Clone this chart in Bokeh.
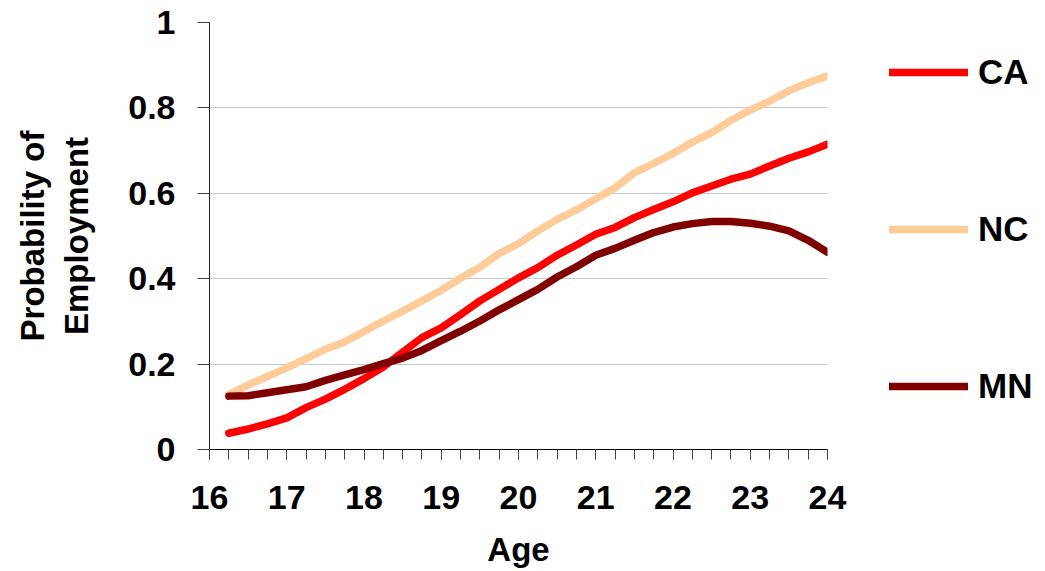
from bokeh.plotting import figure
from bokeh.models import (Range1d, SingleIntervalTicker, FixedTicker, Legend, LegendItem,
                          ColumnDataSource)
from bokeh.embed import file_html
from bokeh.resources import INLINE

# ---- data ----
ages = [16.25, 16.5, 16.75, 17.0, 17.25, 17.5, 17.75, 18.0, 18.25, 18.5,
        18.75, 19.0, 19.25, 19.5, 19.75, 20.0, 20.25, 20.5, 20.75, 21.0, 21.25,
        21.5, 21.75, 22.0, 22.25, 22.5, 22.75, 23.0, 23.25, 23.5, 23.75, 24.0]
ca = [0.038, 0.048, 0.060, 0.074, 0.098, 0.118, 0.141, 0.166, 0.193, 0.228,
      0.262, 0.285, 0.316, 0.348, 0.375, 0.402, 0.426, 0.455, 0.479, 0.504, 0.520,
      0.543, 0.562, 0.580, 0.601, 0.617, 0.633, 0.645, 0.664, 0.682, 0.697, 0.715]
nc = [0.129, 0.151, 0.171, 0.191, 0.213, 0.235, 0.252, 0.276, 0.301, 0.324,
      0.348, 0.373, 0.401, 0.427, 0.459, 0.482, 0.512, 0.539, 0.561, 0.587, 0.613,
      0.648, 0.670, 0.693, 0.720, 0.742, 0.771, 0.795, 0.816, 0.840, 0.859, 0.875]
mn = [0.125, 0.126, 0.133, 0.140, 0.147, 0.162, 0.175, 0.187, 0.201, 0.214,
      0.232, 0.255, 0.277, 0.301, 0.327, 0.351, 0.375, 0.404, 0.428, 0.455, 0.471,
      0.490, 0.508, 0.521, 0.529, 0.534, 0.534, 0.530, 0.523, 0.512, 0.490, 0.462]
series_names = ["CA", "NC", "MN"]
series_colors = ["#FF0000", "#FFCC99", "#800000"]
y_ticks = [0, 0.2, 0.4, 0.6, 0.8, 1.0]
y_tick_labels = ["0", "0.2", "0.4", "0.6", "0.8", "1"]

FONT = "Liberation Sans"

p = figure(frame_width=618, frame_height=427,
           min_border_left=209, min_border_right=213,
           min_border_top=22, min_border_bottom=118,
           x_range=Range1d(16, 24), y_range=Range1d(0, 1),
           output_backend="svg", toolbar_location=None,
           x_axis_label="Age", y_axis_label="Probability of\nEmployment")
p.outline_line_color = None
p.background_fill_color = "white"
p.border_fill_color = "white"

source = ColumnDataSource(dict(age=ages, CA=ca, NC=nc, MN=mn))
renderers = []
for name, color in zip(series_names, series_colors):
    r = p.line("age", name, source=source, line_color=color, line_width=7.5,
               line_cap="round", line_join="round")
    renderers.append(r)

# grid
p.xgrid.visible = False
p.ygrid.grid_line_color = "#c8c8c8"
p.ygrid.grid_line_width = 1
p.ygrid.ticker = FixedTicker(ticks=y_ticks)

# x axis
xa = p.xaxis[0]
xa.ticker = SingleIntervalTicker(interval=1, num_minor_ticks=4)
xa.major_tick_in = 0
xa.major_tick_out = 10
xa.minor_tick_in = 0
xa.minor_tick_out = 10
xa.major_tick_line_color = "#404040"
xa.minor_tick_line_color = "#404040"
xa.axis_line_color = "black"
xa.major_label_text_font = FONT
xa.major_label_text_font_style = "bold"
xa.major_label_text_font_size = "34px"
xa.major_label_text_color = "black"
xa.major_label_standoff = 26
xa.axis_label_text_font = FONT
xa.axis_label_text_font_style = "bold"
xa.axis_label_text_font_size = "33px"
xa.axis_label_text_color = "black"
xa.axis_label_standoff = 19

# y axis
ya = p.yaxis[0]
ya.ticker = FixedTicker(ticks=y_ticks)
ya.major_label_overrides = {t: l for t, l in zip(y_ticks, y_tick_labels)}
ya.major_tick_in = 0
ya.major_tick_out = 12
ya.minor_tick_out = 0
ya.minor_tick_in = 0
ya.major_tick_line_color = "#404040"
ya.axis_line_color = "#202020"
ya.major_label_text_font = FONT
ya.major_label_text_font_style = "bold"
ya.major_label_text_font_size = "34px"
ya.major_label_text_color = "black"
ya.major_label_standoff = 22
ya.axis_label_text_font = FONT
ya.axis_label_text_font_style = "bold"
ya.axis_label_text_font_size = "33px"
ya.axis_label_text_color = "black"
ya.axis_label_standoff = 30

# legend
legend = Legend(items=[LegendItem(label=n, renderers=[r]) for n, r in zip(series_names, renderers)],
                location=(62, 38), orientation="vertical",
                glyph_width=79, glyph_height=50, label_height=50,
                spacing=107, label_standoff=10, padding=0, margin=0,
                border_line_color=None, background_fill_alpha=0,
                label_text_font=FONT, label_text_font_style="bold",
                label_text_font_size="35px", label_text_color="black")
p.add_layout(legend, "right")

open("out.html", "w").write(file_html(p, INLINE))
